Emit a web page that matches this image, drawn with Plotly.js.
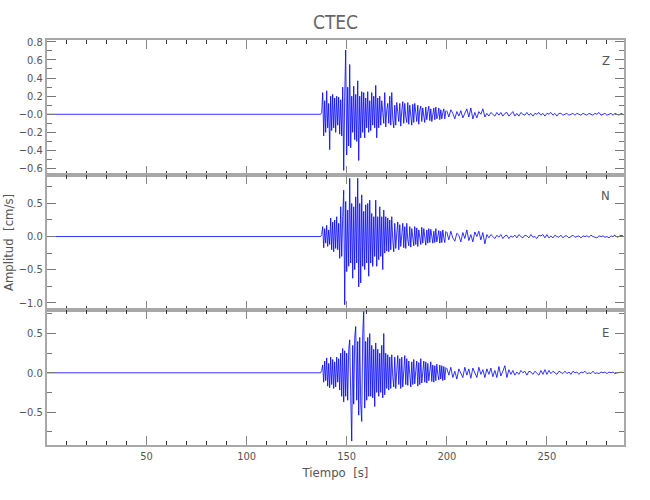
<!DOCTYPE html>
<html>
<head>
<meta charset="utf-8">
<script src="https://cdn.plot.ly/plotly-3.0.1.min.js"></script>
<style>html,body{margin:0;padding:0;background:#fff;}#chart{width:650px;height:500px;}</style>
</head>
<body>
<div id="chart"></div>
<script>
// ---- data ----
const stationName = "CTEC";
const componentNames = ["Z", "N", "E"];

// pre-event quiet part (time in s, amplitude in cm/s)
const preTime = [0, 137];
const preAmp = [0, 0];

// strong-motion part: samples every 0.5 s from 137 s
const mainStart = 137, mainStep = 0.5;
const zMain = [
  0, 0.02, 0.24, -0.24, 0.15, -0.2, 0.26, -0.15, 0.12, -0.39,
  0.2, -0.18, 0.22, -0.15, 0.18, -0.2, 0.2, -0.12, 0.19, -0.22,
  0.16, -0.24, 0.3, -0.62, 0.2, 0.71, -0.45, 0.3, -0.35, 0.55,
  -0.37, 0.2, -0.2, 0.31, -0.28, 0.22, -0.3, 0.37, -0.51, 0.2,
  -0.26, 0.25, -0.2, 0.24, -0.26, 0.18, -0.15, 0.25, -0.2, 0.15,
  -0.18, 0.24, -0.12, 0.2, -0.15, 0.32, -0.26, 0.18, -0.15, 0.2,
  -0.12, 0.15, 0.02, -0.1, 0.24, -0.14, 0.05, 0.12, -0.1, 0.2,
  -0.12, 0.24, -0.05, -0.15, 0.1, -0.12, 0.13, 0.0, -0.08, 0.12,
  -0.13, 0.04, 0.14, -0.1, 0.12, -0.03, -0.09, 0.13, -0.11, 0.1,
  -0.04, -0.12, 0.11, -0.09, 0.12, 0.02, -0.08, 0.1, -0.11, 0.05,
  0.09, -0.08, 0.07, -0.02, -0.09, 0.08, -0.06, 0.03, 0.09, -0.07,
  0.06, -0.08, 0.0, 0.07, -0.06, 0.08, -0.05, -0.02, 0.07, -0.06,
  0.05, -0.05, 0.02, 0.06, -0.05, 0.04
];
const nMain = [
  0, 0.03, 0.15, -0.17, 0.12, -0.1, 0.17, -0.15, 0.1, -0.12,
  0.28, -0.2, 0.22, -0.23, 0.25, -0.18, 0.3, -0.2, 0.2, -0.33,
  0.45, -0.3, 0.3, 0.7, -1.03, 0.53, -0.53, 0.4, -0.45, 0.88,
  -0.4, 0.5, -0.63, 0.45, -0.5, 0.6, -0.4, 0.88, -0.76, 0.5,
  -0.7, 0.63, -0.45, 0.38, -0.5, 0.48, -0.4, 0.5, -0.6, 0.55,
  -0.4, 0.35, -0.45, 0.3, -0.3, 0.55, -0.45, 0.3, -0.35, 0.45,
  -0.3, 0.3, -0.5, 0.4, -0.25, 0.3, -0.22, 0.28, -0.23, 0.25,
  -0.2, 0.3, -0.05, -0.23, 0.2, -0.18, 0.05, 0.22, -0.2, 0.18,
  -0.15, 0.02, 0.2, -0.17, 0.15, -0.18, 0.2, -0.05, -0.14, 0.15,
  -0.16, 0.12, -0.02, -0.14, 0.15, -0.12, 0.13, -0.15, 0.1, 0.02,
  -0.12, 0.14, -0.1, 0.12, -0.03, -0.13, 0.1, -0.1, 0.12, -0.09,
  0.11, -0.02, -0.1, 0.08, -0.09, 0.12, -0.08, 0.0, 0.09, -0.1,
  0.08, -0.09, 0.1, -0.02, -0.09, 0.08
];
const eMain = [
  0, 0.03, 0.1, -0.12, 0.15, -0.1, 0.19, -0.17, 0.12, -0.19,
  0.2, -0.15, 0.17, -0.2, 0.14, -0.18, 0.2, -0.12, 0.18, -0.22,
  0.25, -0.3, 0.31, -0.37, 0.28, -0.3, 0.25, -0.35, 0.3, 0.42,
  -0.3, -0.87, 0.35, -0.4, 0.45, 0.59, -0.35, 0.4, -0.54, 0.45,
  -0.4, -0.62, 0.5, 0.78, -0.45, 0.4, -0.35, 0.45, -0.3, 0.5,
  -0.3, 0.35, -0.32, 0.3, -0.43, 0.38, -0.25, 0.3, -0.3, 0.25,
  -0.25, 0.35, -0.32, 0.5, -0.28, 0.25, -0.2, 0.23, -0.22, 0.2,
  -0.2, 0.23, -0.05, -0.18, 0.2, -0.2, 0.02, 0.22, -0.15, 0.18,
  -0.2, 0.2, -0.18, 0.05, 0.22, -0.15, 0.18, -0.16, 0.15, -0.02,
  -0.18, 0.14, -0.15, 0.17, -0.14, 0.03, 0.15, -0.17, 0.13, -0.15,
  0.18, -0.13, 0.0, 0.15, -0.12, 0.14, -0.13, 0.12, -0.1, 0.02,
  0.14, -0.11, 0.1, -0.12, 0.09, -0.1, 0.11, -0.02, -0.09, 0.1,
  -0.08, 0.09, -0.1, 0.08, -0.09, 0.07
];

// coda: samples every 1 s from 200 s
const codaStart = 200, codaStep = 1;
const zCoda = [
  0.04, -0.03, 0.05, 0.01, -0.05, 0.03, -0.02, 0.04, -0.04, 0.02,
  0.06, -0.03, 0.07, -0.05, 0.02, -0.04, 0.03, 0.0, 0.06, -0.03,
  0.01, -0.02, 0.02, 0.0, -0.02, 0.02, -0.01, 0.02, -0.02, 0.01,
  0.02, -0.02, 0.0, 0.03, -0.02, 0.01, -0.02, 0.02, 0.0, -0.01,
  0.02, -0.01, 0.01, -0.02, 0.01, 0.0, 0.02, -0.01, 0.01, -0.02,
  0.01, 0.0, 0.02, -0.01, 0.01, -0.02, 0.01, 0.01, -0.01, 0.0,
  0.01, -0.01, 0.0, 0.01, -0.01, 0.01, 0.0, -0.01, 0.01, 0.0,
  -0.01, 0.01, 0.0, -0.01, 0.01, 0.0, 0.02, -0.01, 0.0, 0.01,
  -0.01, 0.0, 0.01, -0.01, 0.01, 0.0, -0.01, 0.01, 0.0
];
const nCoda = [
  0.07, -0.05, 0.08, -0.02, -0.07, 0.05, 0.02, -0.08, 0.06, -0.03,
  0.1, -0.06, 0.03, -0.08, 0.07, 0.0, 0.08, -0.05, 0.06, -0.11,
  0.03, -0.02, 0.03, 0.0, -0.03, 0.02, -0.01, 0.03, -0.03, 0.01,
  0.02, -0.03, 0.01, -0.01, 0.02, -0.02, 0.03, 0.0, -0.02, 0.02,
  0.01, -0.02, 0.03, -0.01, 0.0, -0.03, 0.02, 0.01, 0.03, -0.02,
  0.03, -0.02, 0.01, -0.02, 0.02, 0.0, -0.01, 0.02, -0.02, 0.01,
  0.01, -0.02, 0.0, 0.02, -0.01, 0.0, 0.01, -0.02, 0.01, 0.0,
  0.01, -0.01, 0.02, 0.0, -0.01, -0.02, 0.01, 0.0, 0.01, -0.01,
  0.0, -0.02, 0.01, 0.0, 0.02, -0.01, 0.0, 0.02, 0.01
];
const eCoda = [
  0.06, -0.03, 0.07, -0.06, 0.02, -0.08, 0.05, 0.0, -0.06, 0.07,
  -0.03, 0.05, -0.07, 0.06, 0.01, -0.06, 0.07, -0.02, 0.04, -0.06,
  0.05, -0.02, 0.06, -0.05, 0.03, -0.06, 0.08, -0.04, 0.02, 0.09,
  -0.06, 0.04, -0.02, 0.03, -0.03, 0.01, -0.02, 0.03, 0.0, 0.02,
  -0.03, 0.02, 0.01, -0.02, 0.02, -0.01, -0.03, 0.03, -0.02, 0.04,
  -0.02, 0.03, -0.01, 0.02, 0.0, -0.02, 0.02, 0.0, -0.01, 0.02,
  -0.01, 0.01, -0.02, 0.02, 0.0, 0.01, -0.02, 0.01, 0.0, 0.02,
  -0.01, 0.0, -0.01, 0.02, -0.01, 0.0, -0.01, 0.01, 0.0, 0.01,
  -0.01, 0.01, 0.0, 0.01, -0.01, 0.0, 0.0, 0.01, 0.0
];

// tick labels
const xTickVals = [50, 100, 150, 200, 250];
const xTickText = ["50", "100", "150", "200", "250"];
const zTickVals = [0.8, 0.6, 0.4, 0.2, 0, -0.2, -0.4, -0.6];
const zTickText = ["0.8", "0.6", "0.4", "0.2", "\u22120.0", "\u22120.2", "\u22120.4", "\u22120.6"];
const nTickVals = [0.5, 0, -0.5, -1.0];
const nTickText = ["0.5", "0.0", "\u22120.5", "\u22121.0"];
const eTickVals = [0.5, 0, -0.5];
const eTickText = ["0.5", "0.0", "\u22120.5"];

// ---- drawing ----
const FONT = "'Liberation Sans Narrow', 'DejaVu Sans Condensed', 'Liberation Sans', sans-serif";
const BLUE = "#0000ff";
const comps = [
  {main: zMain, coda: zCoda, xa: "x", ya: "y"},
  {main: nMain, coda: nCoda, xa: "x2", ya: "y2"},
  {main: eMain, coda: eCoda, xa: "x3", ya: "y3"}
];
const traces = [];
comps.forEach(c => {
  const base = {type: "scatter", mode: "lines", xaxis: c.xa, yaxis: c.ya,
    line: {color: BLUE, width: 0.8}, hoverinfo: "skip", showlegend: false};
  traces.push(Object.assign({}, base, {x: preTime, y: preAmp}));
  traces.push(Object.assign({}, base, {x0: mainStart, dx: mainStep, y: c.main}));
  traces.push(Object.assign({}, base, {x0: codaStart, dx: codaStep, y: c.coda}));
});

function xAxis(anchor, labels) {
  return {
    anchor: anchor, range: [0.3, 288.5], showgrid: false, zeroline: false,
    showline: true, linecolor: "#a8a8a8", linewidth: 2, mirror: "ticks",
    ticks: "inside", ticklen: 9, tickwidth: 1, tickcolor: "#888",
    tickmode: "array", tickvals: xTickVals, ticktext: xTickText,
    showticklabels: labels,
    minor: {dtick: 10, tick0: 0, ticks: "inside", ticklen: 4, tickwidth: 1, tickcolor: "#333"},
    tickfont: {family: FONT, size: 11, color: "#555"}
  };
}
function yAxis(domain, range, vals, text, minorStep, anchor) {
  return {
    domain: domain, range: range, anchor: anchor, showgrid: false, zeroline: false,
    showline: true, linecolor: "#a8a8a8", linewidth: 2, mirror: "ticks",
    ticks: "inside", ticklen: 9, tickwidth: 1, tickcolor: "#777",
    tickmode: "array", tickvals: vals, ticktext: text,
    minor: {dtick: minorStep, tick0: 0, ticks: "inside", ticklen: 5, tickwidth: 1, tickcolor: "#777"},
    tickfont: {family: FONT, size: 11, color: "#555"}
  };
}

const layout = {
  width: 650, height: 500,
  margin: {l: 47, r: 26, t: 40, b: 55, pad: 0},
  paper_bgcolor: "#fff", plot_bgcolor: "#fff",
  font: {family: FONT, color: "#555", size: 12},
  title: {text: stationName, x: 0.5, xref: "paper", y: 1 - 22 / 500, yref: "container",
          yanchor: "middle", font: {family: FONT, size: 19, color: "#666"}},
  xaxis: xAxis("y", false),
  xaxis2: Object.assign(xAxis("y2", false), {matches: "x"}),
  xaxis3: Object.assign(xAxis("y3", true), {matches: "x",
          title: {text: "Tiempo  [s]", standoff: 6, font: {family: FONT, size: 13, color: "#555"}}}),
  yaxis: yAxis([0.6667, 1], [-0.67, 0.82], zTickVals, zTickText, 0.1, "x"),
  yaxis2: Object.assign(yAxis([0.3333, 0.6667], [-1.11, 0.93], nTickVals, nTickText, 0.25, "x2"),
          {title: {text: "Amplitud  [cm/s]", standoff: 2, font: {family: FONT, size: 13, color: "#555"}}}),
  yaxis3: yAxis([0, 0.3333], [-0.92, 0.80], eTickVals, eTickText, 0.25, "x3"),
  annotations: [
    {text: componentNames[0], xref: "x domain", yref: "y domain", x: 0.968, y: 0.845},
    {text: componentNames[1], xref: "x2 domain", yref: "y2 domain", x: 0.968, y: 0.845},
    {text: componentNames[2], xref: "x3 domain", yref: "y3 domain", x: 0.968, y: 0.83}
  ].map(a => Object.assign(a, {showarrow: false, xanchor: "center", yanchor: "middle",
        font: {family: FONT, size: 13, color: "#555"}}))
};

Plotly.newPlot("chart", traces, layout, {displayModeBar: false, staticPlot: true});
</script>
</body>
</html>
